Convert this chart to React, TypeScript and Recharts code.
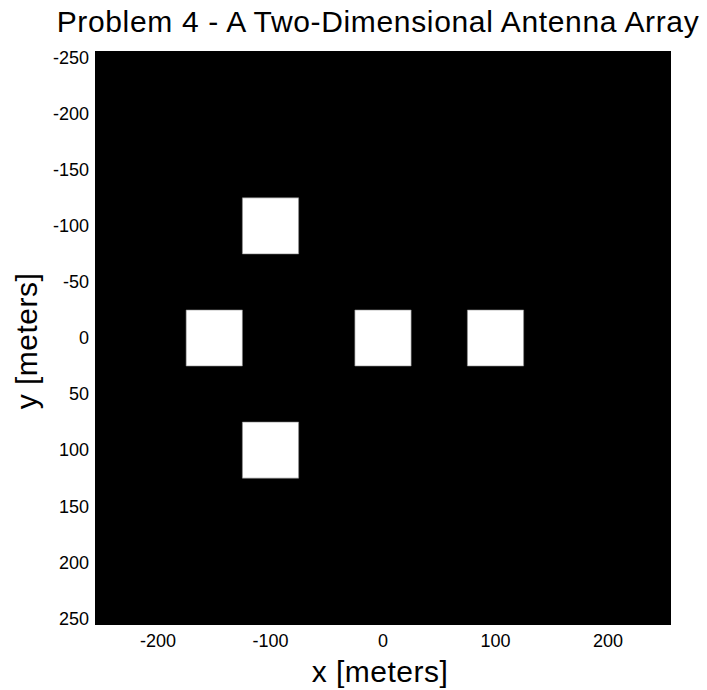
import {
  ScatterChart,
  Scatter,
  XAxis,
  YAxis,
  ReferenceArea,
} from "recharts";

// antenna element centres (meters) and half side of each square
const elementX = [-100, -150, 0, 100, -100];
const elementY = [-100, 0, 0, 0, 100];
const halfSide = 25;

const axisMin = -256;
const axisMax = 256;
const xTicks = [-200, -100, 0, 100, 200];
const yTicks = [-250, -200, -150, -100, -50, 0, 50, 100, 150, 200, 250];

const elements = elementX.map((x, i) => ({ x, y: elementY[i] }));

const font = "'Liberation Sans', Arial, sans-serif";

const XLabel = ({ viewBox }: any) => (
  <text
    x={viewBox.x + viewBox.width / 2 - 3}
    y={viewBox.y + 57}
    textAnchor="middle"
    fontSize={30}
    fontFamily={font}
    letterSpacing={0.5}
    fill="#000"
  >
    x [meters]
  </text>
);

const YLabel = ({ viewBox }: any) => {
  const cx = 37;
  const cy = viewBox.y + viewBox.height / 2 + 3;
  return (
    <text
      x={cx}
      y={cy}
      transform={`rotate(-90, ${cx}, ${cy})`}
      textAnchor="middle"
      fontSize={30}
      fontFamily={font}
      letterSpacing={0.5}
      fill="#000"
    >
      y [meters]
    </text>
  );
};

export default function App() {
  return (
    <div
      style={{
        position: "fixed",
        left: 0,
        top: 0,
        width: 707,
        height: 690,
        overflow: "hidden",
        background: "#fff",
        fontFamily: font,
      }}
    >
      <div
        style={{
          position: "absolute",
          left: 28,
          top: 7,
          width: 700,
          textAlign: "center",
          fontSize: 30,
          lineHeight: "30px",
          letterSpacing: "0.65px",
          whiteSpace: "nowrap",
          color: "#000",
        }}
      >
        Problem 4 - A Two-Dimensional Antenna Array
      </div>
      <ScatterChart
        width={707}
        height={690}
        margin={{ top: 51, right: 36, bottom: 25, left: 35 }}
      >
        <XAxis
          type="number"
          dataKey="x"
          domain={[axisMin, axisMax]}
          ticks={xTicks}
          allowDataOverflow
          tickLine={false}
          tickSize={6}
          tickMargin={3}
          axisLine={false}
          height={40}
          tick={{ fontSize: 18, fontFamily: font, fill: "#000" }}
          label={<XLabel />}
        />
        <YAxis
          type="number"
          dataKey="y"
          domain={[axisMin, axisMax]}
          ticks={yTicks}
          reversed
          allowDataOverflow
          tickLine={false}
          tickSize={4}
          tickMargin={2}
          axisLine={false}
          width={60}
          tick={{ fontSize: 18, fontFamily: font, fill: "#000" }}
          label={<YLabel />}
        />
        <ReferenceArea
          x1={axisMin}
          x2={axisMax}
          y1={axisMin}
          y2={axisMax}
          fill="#000"
          fillOpacity={1}
          stroke="none"
        />
        {elements.map((e, i) => (
          <ReferenceArea
            key={`el-${i}`}
            x1={e.x - halfSide}
            x2={e.x + halfSide}
            y1={e.y - halfSide}
            y2={e.y + halfSide}
            fill="#fff"
            fillOpacity={1}
            stroke="#888"
            strokeWidth={0.6}
          />
        ))}
        <Scatter
          data={elements}
          isAnimationActive={false}
          shape={() => <g />}
        />
      </ScatterChart>
    </div>
  );
}
